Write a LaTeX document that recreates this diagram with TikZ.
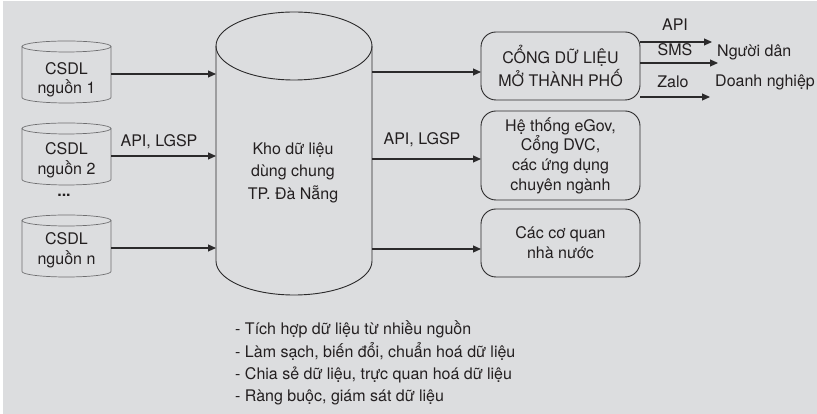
\documentclass[tikz,border=0pt]{standalone}
\usepackage{fontspec}
\setmainfont{TeX Gyre Heros}
\usetikzlibrary{arrows.meta}
\definecolor{bg}{HTML}{DCDDDF}
\definecolor{ink}{HTML}{231F20}
\definecolor{edge}{HTML}{2B2A2B}
\definecolor{lightedge}{HTML}{6E6E70}
\begin{document}
\begin{tikzpicture}[x=1pt,y=1pt,
  txt/.style={text=ink,inner sep=0pt,align=center,font=\fontsize{16}{19.5}\selectfont},
  body/.style={inner sep=0pt,outer sep=0pt,draw=none},
  arr/.style={draw=edge,line width=1.1pt,-{Triangle[length=8pt,width=7pt]}},
  box/.style={draw=edge,line width=0.9pt,rounded corners=15pt,minimum width=159pt,inner sep=0pt,outer sep=0pt,text=ink,align=center},
  smallcyl/.style={draw=lightedge,line width=0.7pt},
  bigcyl/.style={draw=edge,line width=0.9pt}]
\useasboundingbox (0,0) rectangle (817,414);
\fill[white] (0,0) rectangle (817,414);
\fill[bg] (3,0) rectangle (817,413);

% small source databases
\node[body,minimum width=89pt,minimum height=51pt] (c1) at (66.5,342) {};
\node[body,minimum width=89pt,minimum height=51pt] (c2) at (66.5,260) {};
\node[body,minimum width=89pt,minimum height=51pt] (cn) at (66.5,168) {};
\foreach \c in {c1,c2,cn}{
  \draw[smallcyl] (\c.north) ellipse[x radius=44.5, y radius=5.5];
  \draw[smallcyl] (\c.north west) -- (\c.south west) arc[start angle=180,end angle=360,x radius=44.5,y radius=5.5] -- (\c.north east);
}
\node[txt] (c1t) at (66.5,334) {CSDL\\nguồn 1};
\node[txt] (c2t) at (66.5,253.5) {CSDL\\nguồn 2};
\node[txt] (cnt) at (66.5,163.5) {CSDL\\nguồn n};
\node[txt] (dots) at (64,219) {\textbf{...}};

% central warehouse
\node[body,minimum width=156pt,minimum height=215pt] (kho) at (294,260.5) {};
\draw[bigcyl] (kho.north) ellipse[x radius=78, y radius=34];
\draw[bigcyl] (kho.north west) -- (kho.south west) arc[start angle=180,end angle=360,x radius=78,y radius=34] -- (kho.north east);
\node[txt,font=\fontsize{16}{22.5}\selectfont] (khot) at (293,241.5) {Kho dữ liệu\\dùng chung\\TP. Đà Nẵng};

% inbound arrows
\foreach \c in {c1,c2,cn}{
  \draw[arr] ([yshift=-2pt]\c.east) -- ([yshift=-2pt]\c.east -| kho.west);
}
\node[txt] (lblL) at (159,272) {API, LGSP};

% right boxes
\node[box,minimum height=68pt,font=\fontsize{16}{23.5}\selectfont] (b1) at (560.5,348) {CỔNG DỮ LIỆU\\MỞ THÀNH PHỐ};
\node[box,minimum height=89pt,font=\fontsize{16}{19.7}\selectfont] (b2) at (560.5,258.5) {Hệ thống eGov,\\Cổng DVC,\\các ứng dụng\\chuyên ngành};
\node[box,minimum height=68pt,font=\fontsize{16}{20}\selectfont] (b3) at (560.5,171) {Các cơ quan\\nhà nước};

\draw[arr] ([yshift=-6pt]b1.west -| kho.east) -- ([yshift=-6pt]b1.west);
\draw[arr] ([yshift=-3.5pt]b2.west -| kho.east) -- ([yshift=-3.5pt]b2.west);
\draw[arr] ([yshift=-6pt]b3.west -| kho.east) -- ([yshift=-6pt]b3.west);
\node[txt] (lblR) at (422,274) {API, LGSP};

% outbound channels
\coordinate (t1) at (712,372);
\coordinate (t2) at (718,351);
\coordinate (t3) at (710,317);
\draw[arr] (b1.east |- t1) -- (t1);
\draw[arr] (b1.east |- t2) -- (t2);
\draw[arr] (b1.east |- t3) -- (t3);
\node[txt] (api) at (675,389) {API};
\node[txt] (sms) at (675,364) {SMS};
\node[txt] (zalo) at (673,332) {Zalo};
\node[txt,anchor=west] (dan) at (717,362) {Người dân};
\node[txt,anchor=west] (dn) at (715,332) {Doanh nghiệp};

% function list
\node[txt,anchor=west,align=left,font=\fontsize{16}{22.3}\selectfont] (list) at (235,51)
 {- Tích hợp dữ liệu từ nhiều nguồn\\
  - Làm sạch, biến đổi, chuẩn hoá dữ liệu\\
  - Chia sẻ dữ liệu, trực quan hoá dữ liệu\\
  - Ràng buộc, giám sát dữ liệu};
\end{tikzpicture}
\end{document}
